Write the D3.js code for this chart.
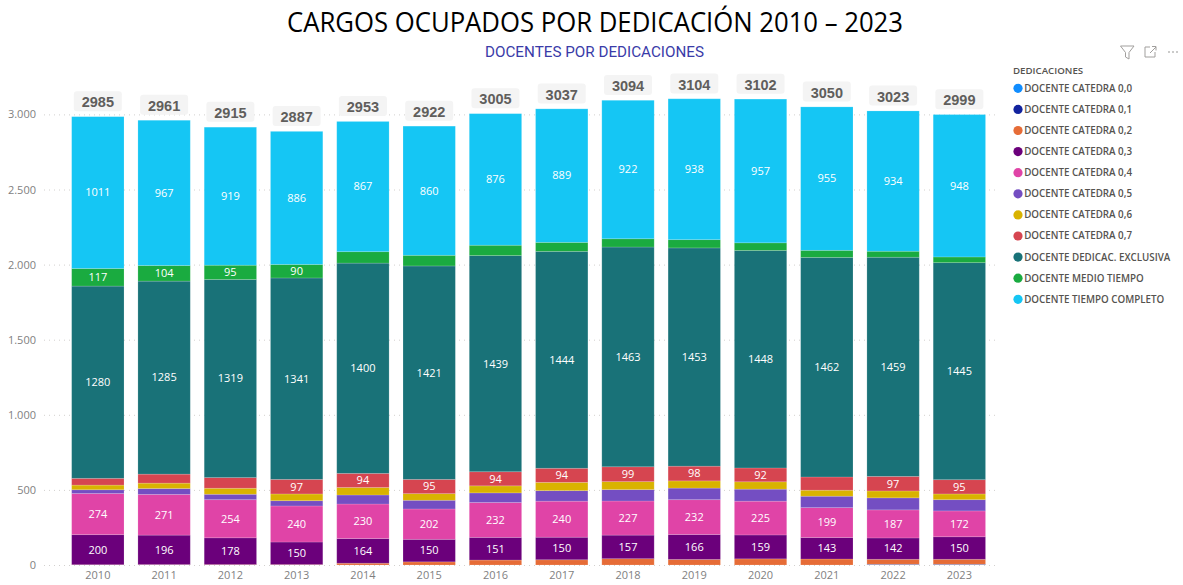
<!DOCTYPE html>
<meta charset="utf-8">
<script src="https://d3js.org/d3.v7.min.js"></script>
<style>
body { margin: 0; background: #fff; }
text { font-family: "Open Sans", sans-serif; }
</style>
<body>
<div id="chart"></div>
<script>
var years = ["2010","2011","2012","2013","2014","2015","2016","2017","2018","2019","2020","2021","2022","2023"]
var totals = [2985,2961,2915,2887,2953,2922,3005,3037,3094,3104,3102,3050,3023,2999]

var seriesNames = ["DOCENTE CATEDRA 0,0","DOCENTE CATEDRA 0,1","DOCENTE CATEDRA 0,2","DOCENTE CATEDRA 0,3","DOCENTE CATEDRA 0,4","DOCENTE CATEDRA 0,5","DOCENTE CATEDRA 0,6","DOCENTE CATEDRA 0,7","DOCENTE DEDICAC. EXCLUSIVA","DOCENTE MEDIO TIEMPO","DOCENTE TIEMPO COMPLETO"]
var seriesColors = ["#118DFF","#12239E","#E66C37","#6B007B","#E044A7","#744EC2","#D9B300","#D64550","#197278","#1AAB40","#15C6F4"]

var cat00 = [0,0,0,0,0,0,0,0,0,0,0,0,2,2]
var cat01 = [0,1,0,0,0,0,0,0,0,0,0,0,3,3]
var cat02 = [2,2,3,3,12,21,33,35,42,37,41,40,33,33]
var cat03 = [200,196,178,150,164,150,151,150,157,166,159,143,142,150]
var cat04 = [274,271,254,240,230,202,232,240,227,232,225,199,187,172]
var cat05 = [25,39,36,35,60,58,64,70,76,77,80,76,80,75]
var cat06 = [31,36,40,45,50,44,47,55,53,48,49,40,46,38]
var cat07 = [45,60,71,97,94,95,94,94,99,98,92,88,97,95]
var exclusiva = [1280,1285,1319,1341,1400,1421,1439,1444,1463,1453,1448,1462,1459,1445]
var medio = [117,104,95,90,76,71,69,60,55,55,51,47,40,38]
var completo = [1011,967,919,886,867,860,876,889,922,938,957,955,934,948]
var seriesValues = [cat00,cat01,cat02,cat03,cat04,cat05,cat06,cat07,exclusiva,medio,completo]

// the report only prints a label when the segment is big enough
var labelled07 = ["2013","2014","2015","2016","2017","2018","2019","2020","2022","2023"]
var labelledMedio = ["2010","2011","2012","2013"]
var labelledYears = [[],[],[],years,years,[],[],labelled07,years,labelledMedio,years]

var yTicks = [0,500,1000,1500,2000,2500,3000]

var width = 1183
var height = 585

var rows = years.map(function(y, i) {
  var row = { year: y }
  seriesNames.forEach(function(s, k) { row[s] = seriesValues[k][i] })
  return row
})

var stacked = d3.stack().keys(seriesNames)(rows)

var x = d3.scaleBand().domain(years).range([64.7, 992.5]).paddingInner(0.21).paddingOuter(0.105)
var y = d3.scaleLinear().domain([0, 3000]).range([565, 114.4])
var color = d3.scaleOrdinal().domain(seriesNames).range(seriesColors)

var svg = d3.select("#chart").append("svg")
  .attr("width", width)
  .attr("height", height)
  .style("display", "block")

// title glyphs are narrower in the original, squeeze them to its width
svg.append("text")
  .attr("x", 595).attr("y", 32)
  .attr("text-anchor", "middle")
  .attr("font-size", "27px")
  .attr("textLength", 616)
  .attr("lengthAdjust", "spacingAndGlyphs")
  .attr("fill", "#000")
  .text("CARGOS OCUPADOS POR DEDICACIÓN 2010 – 2023")

svg.append("text")
  .attr("x", 594.5).attr("y", 56.5)
  .attr("text-anchor", "middle")
  .attr("font-size", "15.5px")
  .attr("font-weight", 400)
  .attr("textLength", 219)
  .attr("lengthAdjust", "spacingAndGlyphs")
  .attr("fill", "#3A3BA8")
  .style("font-family", "Roboto, sans-serif")
  .text("DOCENTES POR DEDICACIONES")

// y axis with dotted grid
var yAxis = svg.append("g")
  .attr("transform", "translate(44,0)")
  .call(d3.axisLeft(y).tickValues(yTicks).tickSize(-953).tickPadding(8)
    .tickFormat(function(d) { return d3.format(",")(d).replace(",", ".") }))
yAxis.select(".domain").remove()
yAxis.selectAll("line")
  .attr("stroke", "#d2d0ce")
  .attr("stroke-width", 1)
  .attr("stroke-dasharray", "1 4")
yAxis.selectAll("text")
  .attr("font-size", "11px")
  .attr("fill", "#7f7f7f")

var xAxis = svg.append("g")
  .attr("transform", "translate(0,565)")
  .call(d3.axisBottom(x).tickSize(0).tickPadding(6))
xAxis.select(".domain").remove()
xAxis.selectAll("text")
  .attr("font-size", "11px")
  .attr("fill", "#7f7f7f")

// stacked bars
var layers = svg.selectAll(".layer")
  .data(stacked)
  .enter().append("g")
    .attr("class", "layer")
    .attr("fill", function(d) { return color(d.key) })

layers.selectAll("rect")
  .data(function(d) { return d })
  .enter().append("rect")
    .attr("x", function(d) { return x(d.data.year) })
    .attr("y", function(d) { return y(d[1]) })
    .attr("width", x.bandwidth())
    .attr("height", function(d) { return y(d[0]) - y(d[1]) })
    .attr("stroke", "#fff")
    .attr("stroke-opacity", 0.2)
    .attr("stroke-width", 0.8)

// segment labels
layers.selectAll(".seglabel")
  .data(function(d, k) {
    return d.filter(function(p) { return labelledYears[k].indexOf(p.data.year) >= 0 })
  })
  .enter().append("text")
    .attr("class", "seglabel")
    .attr("x", function(d) { return x(d.data.year) + x.bandwidth() / 2 })
    .attr("y", function(d) { return (y(d[0]) + y(d[1])) / 2 })
    .attr("dy", "0.35em")
    .attr("text-anchor", "middle")
    .attr("font-size", "11px")
    .attr("fill", "#fff")
    .text(function(d) { return d[1] - d[0] })

// totals above the bars
var totalGroups = svg.selectAll(".total")
  .data(years)
  .enter().append("g")
    .attr("class", "total")
    .attr("transform", function(d, i) {
      return "translate(" + (x(d) + x.bandwidth() / 2) + "," + (y(totals[i]) - 15.4) + ")"
    })
totalGroups.append("rect")
  .attr("x", -24).attr("y", -10)
  .attr("width", 48).attr("height", 20)
  .attr("rx", 3)
  .attr("fill", "#f4f4f4")
totalGroups.append("text")
  .attr("y", 1)
  .attr("dy", "0.36em")
  .attr("text-anchor", "middle")
  .attr("font-size", "14.5px")
  .attr("font-weight", "bold")
  .attr("fill", "#605e5c")
  .style("font-family", "'Liberation Sans', sans-serif")
  .text(function(d, i) { return totals[i] })

// legend
svg.append("text")
  .attr("x", 1013).attr("y", 74)
  .attr("font-size", "9.7px")
  .attr("font-weight", 600)
  .attr("fill", "#55534f")
  .text("DEDICACIONES")

var legend = svg.selectAll(".legend")
  .data(seriesNames)
  .enter().append("g")
    .attr("class", "legend")
    .attr("transform", function(d, i) { return "translate(1018," + (88.3 + i * 21.1) + ")" })
legend.append("circle")
  .attr("r", 4.6)
  .attr("fill", function(d) { return color(d) })
legend.append("text")
  .attr("x", 6.2).attr("dy", "0.35em")
  .attr("font-size", "9.8px")
  .attr("font-weight", 600)
  .attr("fill", "#55534f")
  .text(function(d) { return d })

// visual header icons
var icons = svg.append("g").attr("fill", "none").attr("stroke", "#a19f9d").attr("stroke-width", 1)
icons.append("path").attr("d", "M1120.5 46H1134L1129 52.5V59L1125.5 57V52.5Z")
icons.append("path").attr("d", "M1150 47H1145V57H1155V52M1150 53L1156 47M1152 46.5H1156V50.5")
icons.selectAll("circle")
  .data([1169, 1173, 1177])
  .enter().append("circle")
    .attr("cx", function(d) { return d })
    .attr("cy", 52)
    .attr("r", 0.8)
    .attr("fill", "#8a8886")
    .attr("stroke", "none")
</script>
</body>
